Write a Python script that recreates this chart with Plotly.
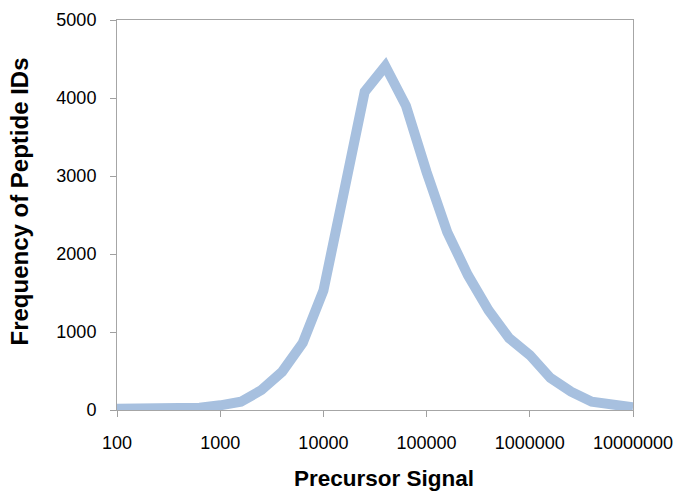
import plotly.graph_objects as go

# Precursor signal bins (log spaced, 5 per decade)
signal = [100, 158, 251, 398, 631, 1000, 1585, 2512, 3981, 6310,
          10000, 15849, 25119, 39811, 63096, 100000, 158489, 251189, 398107, 630957,
          1000000, 1584893, 2511886, 3981072, 6309573, 10000000]
frequency = [15, 15, 15, 20, 30, 60, 106, 256, 490, 860,
             1530, 2800, 4080, 4410, 3900, 3050, 2280, 1730, 1280, 920,
             705, 410, 235, 106, 64, 35]

x_tick_vals = [100, 1000, 10000, 100000, 1000000, 10000000]
x_tick_text = ["100", "1000", "10000", "100000", "1000000", "10000000"]
y_tick_vals = [0, 1000, 2000, 3000, 4000, 5000]

x_title = "Precursor Signal"
y_title = "Frequency of Peptide IDs"

fig = go.Figure()
fig.add_trace(go.Scatter(
    x=signal, y=frequency, mode="lines",
    line=dict(color="#a7c0df", width=10),
    hoverinfo="x+y", showlegend=False,
))

font_family = "Liberation Sans, Arial, sans-serif"
fig.update_layout(
    width=677, height=491,
    margin=dict(l=117, r=44, t=20, b=81),
    paper_bgcolor="white", plot_bgcolor="white",
    font=dict(family=font_family, color="#000000", size=18),
)
fig.update_xaxes(
    type="log", range=[2, 7],
    tickvals=x_tick_vals, ticktext=x_tick_text,
    ticks="outside", ticklen=6, tickcolor="#a0a0a0",
    showline=True, linecolor="#a6a6a6", linewidth=1, mirror=True,
    showgrid=False, zeroline=False,
    tickfont=dict(size=18), ticklabelstandoff=10,
    automargin=False,
)
fig.update_yaxes(
    range=[0, 5000],
    tickvals=y_tick_vals,
    ticks="outside", ticklen=6, tickcolor="#a0a0a0",
    showline=True, linecolor="#a6a6a6", linewidth=1, mirror=True,
    showgrid=False, zeroline=False,
    tickfont=dict(size=18), ticklabelstandoff=10,
    automargin=False,
)
fig.add_annotation(
    text="<b>" + x_title + "</b>", xref="paper", yref="paper",
    x=0.5174, y=0, yshift=-68, xanchor="center", yanchor="middle",
    showarrow=False, font=dict(size=22.5, family=font_family, color="#000000"),
)
fig.add_annotation(
    text="<b>" + y_title + "</b>", xref="paper", yref="paper",
    x=0, y=0.5346, xshift=-97, xanchor="center", yanchor="middle",
    textangle=-90,
    showarrow=False, font=dict(size=24, family=font_family, color="#000000"),
)

fig.write_html(
    "out.html",
    config={"displayModeBar": False},
    post_script="document.body.style.margin='0';document.body.style.overflow='hidden';",
)
